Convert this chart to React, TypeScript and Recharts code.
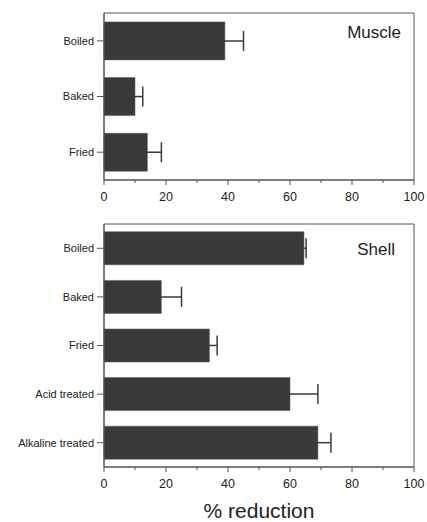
import {
  BarChart,
  Bar,
  XAxis,
  YAxis,
  ErrorBar,
  ReferenceArea,
} from 'recharts';

const muscleCats = ['Boiled', 'Baked', 'Fried'];
const muscleMeans = [39, 10, 14];
const muscleErr = [6, 2.5, 4.5];

const shellCats = ['Boiled', 'Baked', 'Fried', 'Acid treated', 'Alkaline treated'];
const shellMeans = [64.5, 18.5, 34, 60, 69];
const shellErr = [0.7, 6.5, 2.5, 9, 4.2];

const xTicks = [0, 10, 20, 30, 40, 50, 60, 70, 80, 90, 100];

const BAR = '#3a3a3a';
const LINE = '#555';
const TEXT = '#222';

const XTick = (props: any) => {
  const { x, y, payload } = props;
  const major = payload.value % 20 === 0;
  return (
    <g>
      <line x1={x} y1={y} x2={x} y2={y + (major ? 5 : 3)} stroke={LINE} strokeWidth={1} />
      {major && (
        <text x={x} y={y + 17} dy="0.35em" textAnchor="middle" fontSize={12.5} fill={TEXT}>
          {payload.value}
        </text>
      )}
    </g>
  );
};

// plain text so long labels don't wrap
const YTick = (props: any) => {
  const { x, y, payload } = props;
  return (
    <text x={x} y={y} dy="0.35em" textAnchor="end" fontSize={11} fill={TEXT}>
      {payload.value}
    </text>
  );
};

interface PanelProps {
  cats: string[];
  means: number[];
  errs: number[];
  title: string;
  titleOffset: number;
  height: number;
  top: number;
  xHeight: number;
  showLabel?: boolean;
}

const Panel = ({ cats, means, errs, title, titleOffset, height, top, xHeight, showLabel }: PanelProps) => {
  const data = cats.map((name, i) => ({ name, value: means[i], err: errs[i] }));
  return (
    <BarChart
      layout="vertical"
      width={427}
      height={height}
      data={data}
      barCategoryGap="16%"
      margin={{ top, right: 13, left: 4, bottom: 0 }}
    >
      <XAxis
        type="number"
        domain={[0, 100]}
        ticks={xTicks}
        interval={0}
        tickSize={0}
        tickMargin={0}
        tickLine={false}
        tick={<XTick />}
        axisLine={{ stroke: LINE }}
        height={xHeight}
        label={
          showLabel
            ? { value: '% reduction', position: 'insideBottom', offset: 4, fontSize: 21, fill: TEXT }
            : undefined
        }
      />
      <YAxis
        type="category"
        dataKey="name"
        width={100}
        tickSize={7}
        tickMargin={3}
        tick={<YTick />}
        tickLine={{ stroke: LINE }}
        axisLine={{ stroke: LINE }}
      />
      <ReferenceArea
        x1={0}
        x2={100}
        fill="none"
        stroke={LINE}
        strokeWidth={1}
        label={{ value: title, position: 'insideTopRight', offset: titleOffset, fontSize: 17, fill: TEXT }}
      />
      <Bar dataKey="value" fill={BAR} stroke="#555" strokeWidth={0.5} isAnimationActive={false}>
        <ErrorBar dataKey="err" direction="x" width={10} stroke={BAR} strokeWidth={1.5} />
      </Bar>
    </BarChart>
  );
};

export default function App() {
  return (
    <div
      style={{
        position: 'absolute',
        left: 0,
        top: 0,
        width: 427,
        height: 522,
        background: '#fff',
        fontFamily: '"Liberation Sans", Arial, sans-serif',
      }}
    >
      <div style={{ position: 'absolute', left: 0, top: 0 }}>
        <Panel
          cats={muscleCats}
          means={muscleMeans}
          errs={muscleErr}
          title="Muscle"
          titleOffset={13}
          height={205}
          top={13}
          xHeight={25}
        />
      </div>
      <div style={{ position: 'absolute', left: 0, top: 200 }}>
        <Panel
          cats={shellCats}
          means={shellMeans}
          errs={shellErr}
          title="Shell"
          titleOffset={19}
          height={322}
          top={24}
          xHeight={55}
          showLabel
        />
      </div>
    </div>
  );
}
